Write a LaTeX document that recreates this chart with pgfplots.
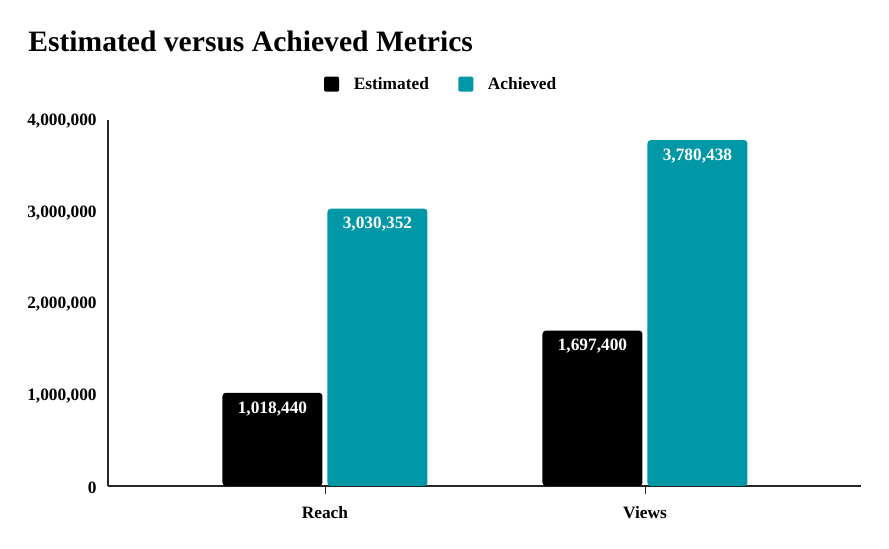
\documentclass[border=0pt]{standalone}
\usepackage{pgfplots}
\pgfplotsset{compat=1.18}
\usepackage{pgfplotstable}
\usepackage{fontspec}
\setmainfont{Liberation Serif}
\definecolor{achteal}{RGB}{0,151,167}
\pgfplotstableread{
x y label
0 1018440 {1,018,440}
1 1697400 {1,697,400}
}\estimated
\pgfplotstableread{
x y label
0 3030352 {3,030,352}
1 3780438 {3,780,438}
}\achieved
\begin{document}
\begin{tikzpicture}
\useasboundingbox (-81pt,-47.25pt) rectangle (585.75pt,364.5pt);
\node[anchor=base west, font=\bfseries\fontsize{22.2pt}{26pt}\selectfont, inner sep=0pt] at (-60pt,325.5pt) {Estimated versus Achieved Metrics};
\begin{axis}[
  at={(0pt,0pt)}, anchor=south west,
  scale only axis,
  width=564.75pt, height=274.5pt,
  xmin=-0.678, xmax=1.675,
  ymin=0, ymax=4000000,
  ybar=3.75pt, bar width=75pt,
  axis x line*=bottom, axis y line*=left,
  axis line style={-, line width=0.9pt, black!85},
  xtick={0,1}, xticklabels={Reach,Views},
  ytick={0,1000000,2000000,3000000,4000000},
  yticklabels={0,{1,000,000},{2,000,000},{3,000,000},{4,000,000}},
  scaled y ticks=false,
  ytick style={draw=none},
  xtick style={line width=0.6pt, black!85},
  major tick length=6pt,
  tick align=outside,
  ticklabel style={font=\bfseries\fontsize{13pt}{15pt}\selectfont},
  /pgf/number format/assume math mode=true,
  yticklabel style={xshift=1pt, yshift=-1pt},
  xticklabel style={yshift=-6pt},
  point meta=explicit symbolic,
  nodes near coords,
  every node near coord/.append style={anchor=north, yshift=-3pt, text=white, font=\bfseries\fontsize{13pt}{15pt}\selectfont},
  legend columns=2,
  legend style={at={(0.443,1.098)}, anchor=center, draw=none, fill=none,
    font=\bfseries\fontsize{13pt}{15pt}\selectfont,
    /tikz/every odd column/.append style={column sep=9pt},
    /tikz/every even column/.append style={column sep=20pt}},
  legend image code/.code={\fill[#1, rounded corners=1pt] (0pt,-5.6pt) rectangle (11.25pt,5.6pt);},
  clip=false,
]
\addplot[fill=black, draw=none, rounded corners=2.5pt] table[x=x, y=y, meta=label] {\estimated};
\addplot[fill=achteal, draw=none, rounded corners=2.5pt] table[x=x, y=y, meta=label] {\achieved};
\legend{Estimated, Achieved}
\end{axis}
\end{tikzpicture}
\end{document}
